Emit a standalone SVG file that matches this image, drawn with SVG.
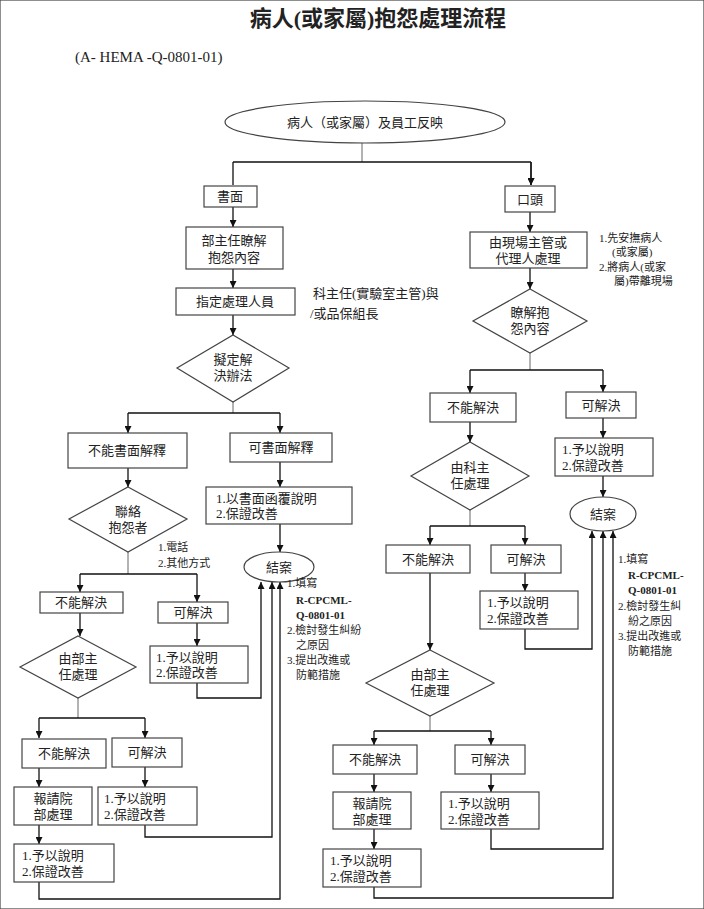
<svg xmlns="http://www.w3.org/2000/svg" width="704" height="909" viewBox="0 0 704 909">
<style>
text{font-family:"Liberation Serif","Noto Sans CJK TC",serif;fill:#222}
.t{font-size:13px;text-anchor:middle}
.n{font-size:11px}
.b{font-weight:bold}
rect,ellipse,polygon{fill:#fff;stroke:#444;stroke-width:1.2}
.c path{fill:none;stroke:#111;stroke-width:1.3}
.c .g{stroke:#666;stroke-width:1}
</style>
<defs><marker id="a" viewBox="0 0 10 10" refX="10" refY="5" markerWidth="7" markerHeight="7" orient="auto" markerUnits="userSpaceOnUse"><path d="M0,0L10,5L0,10z" fill="#111"/></marker></defs>
<rect width="704" height="909" fill="#fff" stroke="none"/>
<text x="378" y="26" style="font-size:22px;font-weight:bold;text-anchor:middle">病人(或家屬)抱怨處理流程</text>
<text x="75" y="62" style="font-size:15px">(A- HEMA -Q-0801-01)</text>

<g class="c">
<path class="g" d="M362,143V162"/>
<path d="M233,162H531M233,162V185M531,162V185" marker-end="url(#a)"/>
<path d="M531,162V185" marker-end="url(#a)"/>
<path d="M233,207V227" marker-end="url(#a)"/>
<path d="M233,269V288" marker-end="url(#a)"/>
<path d="M233,315V335" marker-end="url(#a)"/>
<path class="g" d="M233,402V413"/>
<path d="M128,413H280M128,413V433" marker-end="url(#a)"/>
<path d="M280,413V433" marker-end="url(#a)"/>
<path d="M128,468V487" marker-end="url(#a)"/>
<path d="M280,462V487" marker-end="url(#a)"/>
<path d="M280,524V552" marker-end="url(#a)"/>
<path class="g" d="M128,552V574"/>
<path d="M80,574H197M80,574V592" marker-end="url(#a)"/>
<path d="M197,574V602" marker-end="url(#a)"/>
<path d="M80,613V636" marker-end="url(#a)"/>
<path d="M197,623V646" marker-end="url(#a)"/>
<path class="g" d="M78,698V718"/>
<path d="M39,718H145M39,718V738" marker-end="url(#a)"/>
<path d="M145,718V738" marker-end="url(#a)"/>
<path d="M39,768V787" marker-end="url(#a)"/>
<path d="M145,767V787" marker-end="url(#a)"/>
<path d="M39,825V844" marker-end="url(#a)"/>
<path d="M197,683V698H261V582" marker-end="url(#a)"/>
<path d="M145,825V837H272V582" marker-end="url(#a)"/>
<path d="M39,882V899H280V582" marker-end="url(#a)"/>

<path d="M530,212V232" marker-end="url(#a)"/>
<path d="M530,268V289" marker-end="url(#a)"/>
<path class="g" d="M530,353V370"/>
<path d="M470,370H603M470,370V393" marker-end="url(#a)"/>
<path d="M603,370V392" marker-end="url(#a)"/>
<path d="M470,422V442" marker-end="url(#a)"/>
<path d="M603,418V438" marker-end="url(#a)"/>
<path d="M603,476V497" marker-end="url(#a)"/>
<path class="g" d="M470,510V526"/>
<path d="M430,526H525M430,526V545" marker-end="url(#a)"/>
<path d="M525,526V545" marker-end="url(#a)"/>
<path d="M525,573V591" marker-end="url(#a)"/>
<path d="M430,573V650" marker-end="url(#a)"/>
<path d="M525,629V649H592V531" marker-end="url(#a)"/>
<path class="g" d="M430,716V731"/>
<path d="M374,731H491M374,731V745" marker-end="url(#a)"/>
<path d="M491,731V745" marker-end="url(#a)"/>
<path d="M374,774V792" marker-end="url(#a)"/>
<path d="M491,774V792" marker-end="url(#a)"/>
<path d="M374,829V849" marker-end="url(#a)"/>
<path d="M491,829V849H603V531" marker-end="url(#a)"/>
<path d="M374,887V898H613V531" marker-end="url(#a)"/>
</g>

<g id="start"><ellipse cx="365" cy="122" rx="140" ry="21"/><text class="t" x="365" y="127">病人（或家屬）及員工反映</text></g>
<g id="written"><rect x="204" y="186" width="53" height="21"/><text class="t" x="230" y="201">書面</text></g>
<g id="oral"><rect x="505" y="186" width="50" height="26"/><text class="t" x="530" y="204">口頭</text></g>
<g id="l1"><rect x="186" y="227" width="97" height="42"/><text class="t" x="234" y="245">部主任瞭解</text><text class="t" x="234" y="262">抱怨內容</text></g>
<g id="l2"><rect x="176" y="288" width="119" height="27"/><text class="t" x="235" y="306">指定處理人員</text></g>
<text class="n" x="313" y="298" style="font-size:13px">科主任(實驗室主管)與</text>
<text class="n" x="310" y="318" style="font-size:13px">/或品保組長</text>
<g id="l3"><polygon points="233,335 289,368 233,402 177,368"/><text class="t" x="233" y="364">擬定解</text><text class="t" x="233" y="380">決辦法</text></g>
<g id="l4"><rect x="68" y="433" width="119" height="35"/><text class="t" x="127" y="455">不能書面解釋</text></g>
<g id="l5"><rect x="230" y="433" width="102" height="29"/><text class="t" x="281" y="452">可書面解釋</text></g>
<g id="l6"><polygon points="128,487 187,519 128,552 69,519"/><text class="t" x="128" y="516">聯絡</text><text class="t" x="128" y="532">抱怨者</text></g>
<text class="n" x="158" y="551">1.電話</text><text class="n" x="158" y="567">2.其他方式</text>
<g id="l7"><rect x="206" y="487" width="146" height="37"/><text x="216" y="503" style="font-size:13px">1.以書面函覆說明</text><text x="216" y="518" style="font-size:13px">2.保證改善</text></g>
<g id="end1"><ellipse cx="279" cy="567" rx="35" ry="15"/><text class="t" x="279" y="572">結案</text></g>
<text class="n" x="287" y="587">1.填寫</text>
<text class="n b" x="296" y="604">R-CPCML-</text>
<text class="n b" x="296" y="619">Q-0801-01</text>
<text class="n" x="287" y="634">2.檢討發生糾紛</text>
<text class="n" x="296" y="649">之原因</text>
<text class="n" x="287" y="664">3.提出改進或</text>
<text class="n" x="296" y="679">防範措施</text>
<g id="l8"><rect x="40" y="592" width="83" height="21"/><text class="t" x="81" y="607">不能解決</text></g>
<g id="l9"><rect x="158" y="602" width="70" height="21"/><text class="t" x="193" y="617">可解決</text></g>
<g id="l10"><polygon points="78,636 136,667 78,698 20,667"/><text class="t" x="78" y="663">由部主</text><text class="t" x="78" y="679">任處理</text></g>
<g id="l11"><rect x="150" y="646" width="98" height="37"/><text x="156" y="662" style="font-size:13px">1.予以說明</text><text x="156" y="677" style="font-size:13px">2.保證改善</text></g>
<g id="l12"><rect x="22" y="739" width="84" height="29"/><text class="t" x="64" y="758">不能解決</text></g>
<g id="l13"><rect x="112" y="738" width="70" height="29"/><text class="t" x="147" y="757">可解決</text></g>
<g id="l14"><rect x="14" y="787" width="78" height="38"/><text class="t" x="53" y="803">報請院</text><text class="t" x="53" y="819">部處理</text></g>
<g id="l15"><rect x="98" y="787" width="99" height="38"/><text x="104" y="803" style="font-size:13px">1.予以說明</text><text x="104" y="819" style="font-size:13px">2.保證改善</text></g>
<g id="l16"><rect x="14" y="844" width="100" height="38"/><text x="22" y="860" style="font-size:13px">1.予以說明</text><text x="22" y="876" style="font-size:13px">2.保證改善</text></g>

<g id="r1"><rect x="470" y="232" width="117" height="36"/><text class="t" x="528" y="247">由現場主管或</text><text class="t" x="528" y="263">代理人處理</text></g>
<text class="n" x="599" y="242">1.先安撫病人</text>
<text class="n" x="612" y="256">(或家屬)</text>
<text class="n" x="599" y="271">2.將病人(或家</text>
<text class="n" x="614" y="285">屬)帶離現場</text>
<g id="r2"><polygon points="530,289 587,321 530,353 473,321"/><text class="t" x="530" y="317">瞭解抱</text><text class="t" x="530" y="333">怨內容</text></g>
<g id="r3"><rect x="430" y="393" width="86" height="29"/><text class="t" x="473" y="412">不能解決</text></g>
<g id="r4"><rect x="566" y="392" width="70" height="26"/><text class="t" x="601" y="410">可解決</text></g>
<g id="r5"><polygon points="470,442 529,476 470,510 411,476"/><text class="t" x="470" y="472">由科主</text><text class="t" x="470" y="488">任處理</text></g>
<g id="r6"><rect x="555" y="438" width="98" height="38"/><text x="562" y="454" style="font-size:13px">1.予以說明</text><text x="562" y="470" style="font-size:13px">2.保證改善</text></g>
<g id="end2"><ellipse cx="603" cy="514" rx="33" ry="17"/><text class="t" x="603" y="519">結案</text></g>
<text class="n" x="618" y="563">1.填寫</text>
<text class="n b" x="628" y="579">R-CPCML-</text>
<text class="n b" x="628" y="594">Q-0801-01</text>
<text class="n" x="618" y="610">2.檢討發生糾</text>
<text class="n" x="628" y="625">紛之原因</text>
<text class="n" x="618" y="640">3.提出改進或</text>
<text class="n" x="628" y="655">防範措施</text>
<g id="r7"><rect x="386" y="545" width="84" height="28"/><text class="t" x="428" y="564">不能解決</text></g>
<g id="r8"><rect x="491" y="545" width="70" height="28"/><text class="t" x="526" y="564">可解決</text></g>
<g id="r9"><rect x="480" y="591" width="98" height="38"/><text x="487" y="607" style="font-size:13px">1.予以說明</text><text x="487" y="623" style="font-size:13px">2.保證改善</text></g>
<g id="r10"><polygon points="430,650 494,683 430,716 366,683"/><text class="t" x="430" y="679">由部主</text><text class="t" x="430" y="695">任處理</text></g>
<g id="r11"><rect x="333" y="745" width="84" height="29"/><text class="t" x="375" y="764">不能解決</text></g>
<g id="r12"><rect x="455" y="745" width="70" height="29"/><text class="t" x="490" y="764">可解決</text></g>
<g id="r13"><rect x="333" y="792" width="78" height="37"/><text class="t" x="372" y="808">報請院</text><text class="t" x="372" y="824">部處理</text></g>
<g id="r14"><rect x="441" y="792" width="98" height="37"/><text x="448" y="808" style="font-size:13px">1.予以說明</text><text x="448" y="824" style="font-size:13px">2.保證改善</text></g>
<g id="r15"><rect x="323" y="849" width="98" height="38"/><text x="330" y="865" style="font-size:13px">1.予以說明</text><text x="330" y="881" style="font-size:13px">2.保證改善</text></g>
</svg>
